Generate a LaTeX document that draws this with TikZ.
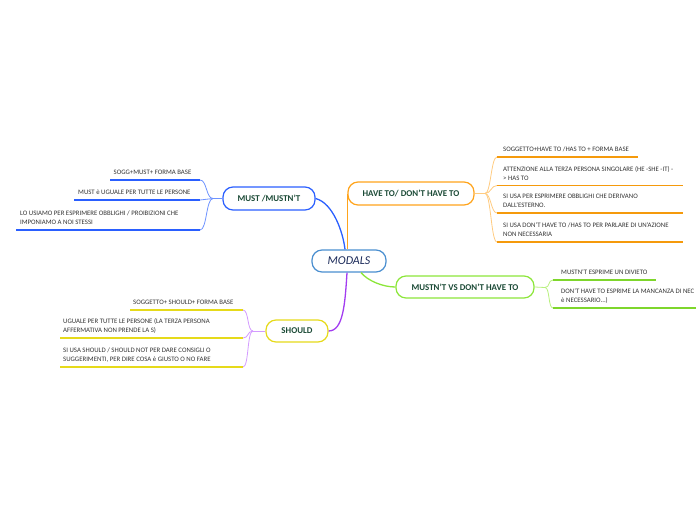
\documentclass[tikz,border=0pt]{standalone}
\usepackage{fontspec}
\setmainfont{Carlito}
\definecolor{boxtext}{HTML}{1B4A36}
\definecolor{navytext}{HTML}{1C2B5A}
\definecolor{itemtext}{HTML}{333333}
\definecolor{modalsblue}{HTML}{4A8FD0}
\definecolor{mustblue}{HTML}{2A5FFF}
\definecolor{mustlight}{HTML}{6E93FF}
\definecolor{haveorange}{HTML}{FFA41C}
\definecolor{haveline}{HTML}{F59A0C}
\definecolor{havelight}{HTML}{FFCB80}
\definecolor{vsgreen}{HTML}{8CE63A}
\definecolor{vsline}{HTML}{7ED62C}
\definecolor{vslight}{HTML}{B8F07E}
\definecolor{shyellow}{HTML}{E6DA1A}
\definecolor{shpurple}{HTML}{A23CF0}
\definecolor{shlight}{HTML}{D39BFF}
\begin{document}
\begin{tikzpicture}[x=1pt,y=-1pt,
  topic/.style={draw, line width=1.2pt, rounded corners=10pt, fill=white,
    font=\bfseries\fontsize{8.9}{10}\selectfont, text=boxtext, inner sep=0pt, minimum height=22pt},
  item/.style={font=\fontsize{6.8}{8.8}\selectfont, text=itemtext, inner sep=0pt, anchor=base west, align=left},
  uline/.style={line width=1.4pt},
  sub/.style={line width=0.8pt},
  mainline/.style={line width=1.3pt}]
\useasboundingbox (0,0) rectangle (696,520);

% topic boxes
\node[topic, draw=modalsblue, minimum width=74pt, font=\itshape\fontsize{12}{13}\selectfont, text=navytext] (modals) at (349,261) {MODALS};
\node[topic, draw=mustblue, minimum width=92pt, minimum height=23pt] (must) at (269,198.5) {MUST /MUSTN'T};
\node[topic, draw=haveorange, minimum width=126pt, minimum height=23pt] (have) at (411,193.5) {HAVE TO/ DON'T HAVE TO};
\node[topic, draw=vsgreen, minimum width=138pt] (vs) at (465,287) {MUSTN'T VS DON'T HAVE TO};
\node[topic, draw=shyellow, minimum width=62pt] (should) at (297,331) {SHOULD};

% main connectors
\draw[mainline, mustblue] (must.east) .. controls (333,203) and (343,232) .. ([xshift=-4pt]modals.north);
\draw[mainline, haveorange] (have.west |- modals.north) -- (have.west);
\draw[mainline, vsgreen] ([xshift=12pt]modals.south) .. controls (368,281) and (383,287) .. (vs.west);
\draw[mainline, shpurple] ([xshift=-2pt]modals.south) .. controls (345,305) and (343,331) .. (should.east);

% MUST items
\coordinate (mj) at (213,198.5);
\coordinate (m1a) at (110,180); \coordinate (m1b) at (200,180);
\coordinate (m2a) at (74,200);  \coordinate (m2b) at (200,200);
\coordinate (m3a) at (16,230);  \coordinate (m3b) at (200,230);
\draw[sub, mustlight] (must.west) -- (mj);
\foreach \e in {m1b,m2b,m3b}{\draw[sub, mustlight] (mj) .. controls +(-7,0) and +(7,0) .. (\e);}
\draw[uline, mustblue] (m1a) -- (m1b);
\draw[uline, mustblue] (m2a) -- (m2b);
\draw[uline, mustblue] (m3a) -- (m3b);
\node[item] (m1) at (113.5,174.5) {SOGG+MUST+ FORMA BASE};
\node[item] (m2) at (78,194.5) {MUST è UGUALE PER TUTTE LE PERSONE};
\node[item] (m3) at (20,224.5) {LO USIAMO PER ESPRIMERE OBBLIGHI / PROIBIZIONI CHE\\IMPONIAMO A NOI STESSI};

% HAVE TO items
\coordinate (hj) at (485,193.5);
\coordinate (h1a) at (497,157);   \coordinate (h1b) at (638,157);
\coordinate (h2a) at (497,185.5); \coordinate (h2b) at (683,185.5);
\coordinate (h3a) at (497,213);   \coordinate (h3b) at (683,213);
\coordinate (h4a) at (497,242);   \coordinate (h4b) at (683,242);
\draw[sub, havelight] (have.east) -- (hj);
\foreach \e in {h1a,h2a,h3a,h4a}{\draw[sub, havelight] (hj) .. controls +(6,0) and +(-6,0) .. (\e);}
\draw[uline, haveline] (h1a) -- (h1b);
\draw[uline, haveline] (h2a) -- (h2b);
\draw[uline, haveline] (h3a) -- (h3b);
\draw[uline, haveline] (h4a) -- (h4b);
\node[item] (h1) at (503,151.5) {SOGGETTO+HAVE TO /HAS TO + FORMA BASE};
\node[item] (h2) at (503,180) {ATTENZIONE ALLA TERZA PERSONA SINGOLARE (HE -SHE -IT) -\\> HAS TO};
\node[item] (h3) at (503,207.5) {SI USA PER ESPRIMERE OBBLIGHI CHE DERIVANO\\DALL'ESTERNO.};
\node[item] (h4) at (503,236.5) {SI USA DON'T HAVE TO /HAS TO PER PARLARE DI UN'AZIONE\\NON NECESSARIA};

% MUSTN'T VS items
\coordinate (gj) at (545,287.5);
\coordinate (g1a) at (553,280); \coordinate (g1b) at (656,280);
\coordinate (g2a) at (553,308); \coordinate (g2b) at (696,308);
\draw[sub, vslight] (vs.east) -- (gj);
\foreach \e in {g1a,g2a}{\draw[sub, vslight] (gj) .. controls +(5,0) and +(-5,0) .. (\e);}
\draw[uline, vsline] (g1a) -- (g1b);
\draw[uline, vsline] (g2a) -- (g2b);
\node[item] (g1) at (561,274.5) {MUSTN'T ESPRIME UN DIVIETO};
\node[item] (g2) at (561,302.5) {DON'T HAVE TO ESPRIME LA MANCANZA DI NEC\\è NECESSARIO...)};

% SHOULD items
\coordinate (sj) at (253,331);
\coordinate (s1a) at (130,310); \coordinate (s1b) at (243,310);
\coordinate (s2a) at (60,338);  \coordinate (s2b) at (243,338);
\coordinate (s3a) at (60,367);  \coordinate (s3b) at (243,367);
\draw[sub, shlight] (should.west) -- (sj);
\foreach \e in {s1b,s2b,s3b}{\draw[sub, shlight] (sj) .. controls +(-6,0) and +(6,0) .. (\e);}
\draw[uline, shyellow] (s1a) -- (s1b);
\draw[uline, shyellow] (s2a) -- (s2b);
\draw[uline, shyellow] (s3a) -- (s3b);
\node[item] (s1) at (133,304.5) {SOGGETTO+ SHOULD+ FORMA BASE};
\node[item] (s2) at (63,332.5) {UGUALE PER TUTTE LE PERSONE (LA TERZA PERSONA\\AFFERMATIVA NON PRENDE LA S)};
\node[item] (s3) at (63,361.5) {SI USA SHOULD / SHOULD NOT PER DARE CONSIGLI O\\SUGGERIMENTI, PER DIRE COSA è GIUSTO O NO FARE};
\end{tikzpicture}
\end{document}
